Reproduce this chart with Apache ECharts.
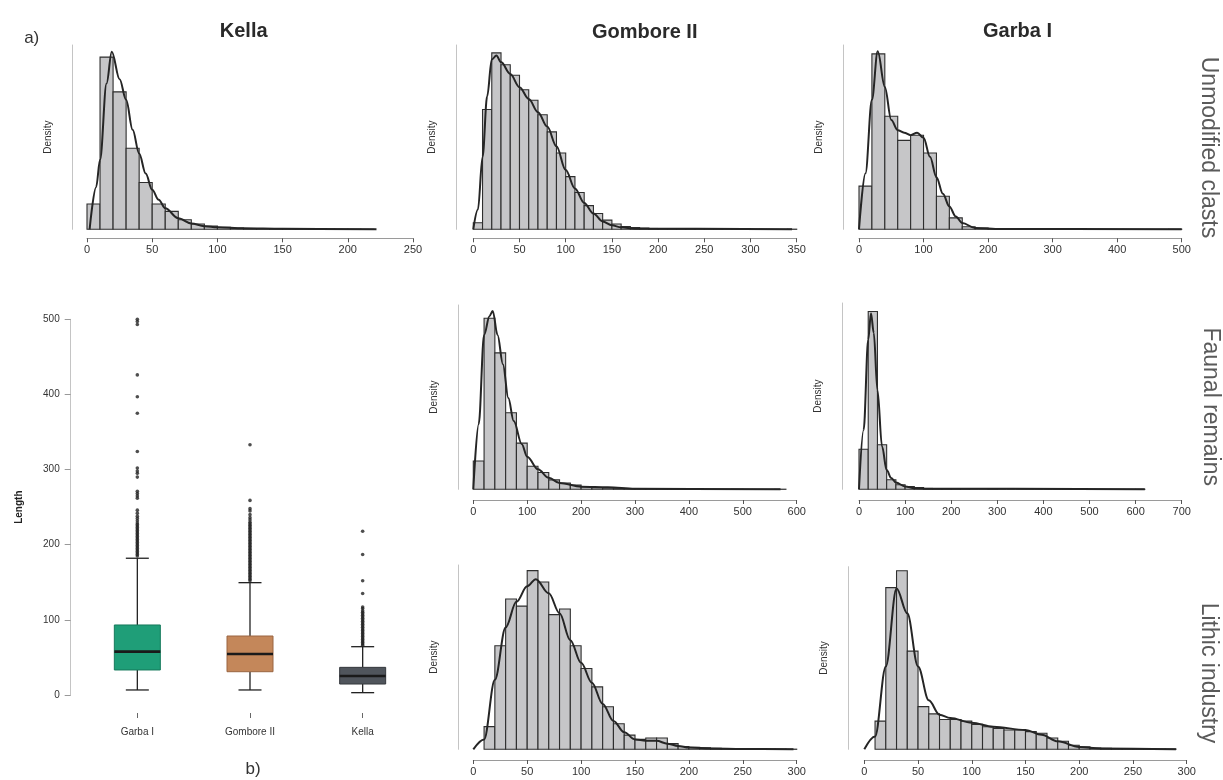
<!DOCTYPE html>
<html><head><meta charset="utf-8">
<script src="https://cdn.jsdelivr.net/npm/echarts@6/dist/echarts.min.js"></script>
<style>html,body{margin:0;padding:0;background:#fff}#chart{width:1223px;height:780px}</style>
</head><body><div id="chart"></div>
<script>
// ---------- DATA ----------
const siteTitles = ['Kella', 'Gombore II', 'Garba I'];
const rowLabels = ['Unmodified clasts', 'Faunal remains', 'Lithic industry'];

// Kella – unmodified clasts (bins of 10 starting at 0)
const kellaClastsStart = 0, kellaClastsWidth = 10;
const kellaClastsDensity = [0.0048,0.0327,0.0261,0.0154,0.0089,0.0048,0.0034,0.0018,0.0010,0.0006,0.0004,0.00025,0.00013,0.00008,0.00005,0.00005,0.00003,0.00003,0.00002,0.00002,0.00002,0.00001];
const kellaClastsCurve = [[2,0],[7,0.008],[10,0.0132],[15,0.0277],[19,0.0337],[25,0.0285],[30,0.0246],[35,0.0189],[40,0.0144],[45,0.0106],[50,0.0075],[55,0.0056],[60,0.0040],[70,0.0021],[80,0.0011],[90,0.0006],[100,0.0004],[120,0.0002],[150,0.0001],[222,0]];
const kellaClastsTicks = [0,250,50];

// Gombore II – unmodified clasts (bins of 10)
const gomClastsStart = 0, gomClastsWidth = 10;
const gomClastsDensity = [0.0005,0.0091,0.0134,0.0125,0.0117,0.0106,0.0098,0.0087,0.0074,0.0058,0.0040,0.0028,0.0018,0.0012,0.0007,0.0004,0.0002,0.00013,0.0001,0.00006,0.00004,0.00003,0.00002,0.00002,0.00001,0.00001,0.00001,0,0.00001,0,0,0.00001,0,0,0.00001];
const gomClastsCurve = [[0,0],[5,0.0015],[10,0.0055],[15,0.0101],[20,0.0129],[25,0.0132],[30,0.0127],[40,0.0118],[50,0.0108],[60,0.0099],[70,0.0089],[80,0.0078],[90,0.0063],[100,0.0045],[110,0.0031],[120,0.0020],[130,0.0012],[140,0.0006],[150,0.0003],[160,0.00015],[175,0.00005],[345,0]];
const gomClastsTicks = [0,350,50];

// Garba I – unmodified clasts (bins of 20)
const garClastsStart = 0, garClastsWidth = 20;
const garClastsDensity = [0.0034,0.0138,0.0089,0.0070,0.0074,0.0060,0.0026,0.0009,0.0002,0.0001,0.00005,0.00003,0.00002,0.00001,0.00001,0,0.00001,0,0,0,0,0,0,0,0.00001];
const garClastsCurve = [[0,0],[10,0.0044],[20,0.0102],[29,0.0140],[40,0.0112],[50,0.0086],[60,0.0078],[70,0.0076],[80,0.0074],[90,0.0076],[100,0.0072],[110,0.0057],[120,0.0041],[130,0.0028],[140,0.0018],[150,0.0010],[160,0.0005],[180,0.0001],[220,0.00002],[500,0]];
const garClastsTicks = [0,500,100];

// Gombore II – faunal remains (bins of 20)
const gomFaunaStart = 0, gomFaunaWidth = 20;
const gomFaunaDensity = [0.0027,0.0163,0.0130,0.0073,0.0044,0.0022,0.0016,0.0009,0.0006,0.0004,0.00025,0.00016,0.00013,0.00006,0.00003,0.00003,0.00002,0.00001,0.00001,0,0.00001,0,0,0,0.00001,0,0,0,0.00001];
const gomFaunaCurve = [[0,0],[10,0.0062],[20,0.0147],[30,0.0165],[36,0.0170],[45,0.0147],[55,0.0119],[65,0.0087],[75,0.0065],[90,0.0043],[100,0.0031],[120,0.0019],[140,0.0011],[160,0.0006],[200,0.00025],[250,0.0002],[300,0.00005],[570,0]];
const gomFaunaTicks = [0,600,100];

// Garba I – faunal remains (bins of 20)
const garFaunaStart = 0, garFaunaWidth = 20;
const garFaunaDensity = [0.0071,0.0315,0.0079,0.0017,0.0008,0.0005,0.0003,0.00015,0.00005,0.00003,0.00002,0.00001,0,0,0.00001,0,0,0,0,0,0,0,0,0,0,0,0,0,0,0,0.00001];
const garFaunaCurve = [[0,0],[10,0.0105],[20,0.0265],[26,0.0312],[32,0.0277],[40,0.0176],[50,0.0076],[60,0.0034],[70,0.0020],[80,0.0012],[100,0.0005],[120,0.0002],[150,0.0001],[620,0]];
const garFaunaTicks = [0,700,100];

// Gombore II – lithic industry (bins of 10 starting at 10)
const gomLithicStart = 10, gomLithicWidth = 10;
const gomLithicDensity = [0.0016,0.0073,0.0106,0.0101,0.0126,0.0118,0.0095,0.0099,0.0073,0.0057,0.0044,0.0030,0.0018,0.0010,0.0007,0.0008,0.0008,0.0004,0.0002,0.00014,0.0001,0.00007,0.00005,0.00005,0.00004,0.00002,0.00002,0.00002,0.00001];
const gomLithicCurve = [[0,0],[10,0.0007],[20,0.0049],[30,0.0086],[40,0.0104],[50,0.0115],[58,0.0120],[70,0.0110],[80,0.0096],[90,0.0077],[100,0.0061],[110,0.0047],[120,0.0032],[130,0.0020],[140,0.0012],[150,0.0007],[160,0.0006],[170,0.0006],[180,0.0004],[190,0.00024],[200,0.00012],[220,0.00005],[250,0.00002],[297,0]];
const gomLithicTicks = [0,300,50];

// Garba I – lithic industry (bins of 10 starting at 10)
const garLithicStart = 10, garLithicWidth = 10;
const garLithicDensity = [0.0035,0.0201,0.0222,0.0122,0.0053,0.0044,0.0037,0.0037,0.0035,0.0031,0.0028,0.0026,0.0024,0.0024,0.0022,0.0020,0.0014,0.0010,0.0005,0.0003,0.00017,0.00012,0.00004,0.00004,0.00004,0.00004,0.00004,0.00004];
const garLithicCurve = [[0,0],[10,0.0016],[20,0.0103],[30,0.0200],[40,0.0169],[50,0.0103],[60,0.0061],[70,0.0043],[80,0.0039],[100,0.0033],[120,0.0028],[150,0.0024],[165,0.0018],[180,0.0010],[200,0.0003],[220,0.0001],[290,0]];
const garLithicTicks = [0,300,50];

// Boxplot (b): Length by site
const boxCategories = ['Garba I', 'Gombore II', 'Kella'];
// [lower whisker, Q1, median, Q3, upper whisker]
const boxStats = [[6.7,33.3,57.7,93.2,182],[6.7,31,54.6,78.5,149.5],[3.1,14.6,25.3,36.8,64.3]];
const garbaOutliers = [185,187,189,191,193,195,197,199,201,203,205,207,209,211,213,215,217,219,221,223,225,227,229,232,235,238,242,246,262,265,268,271,290,295,298,302,324,375,397,426,493,497,500];
const gomboreOutliers = [152,154,156,158,160,162,164,166,168,170,172,174,176,178,180,182,184,186,188,190,192,194,196,198,200,202,204,206,208,210,212,214,216,218,220,222,224,226,228,230,233,236,240,245,248,259,333];
const kellaOutliers = [66,68,70,72,74,76,78,80,82,84,86,88,90,92,94,96,98,100,102,104,106,108,110,112,115,117,135,152,187,218];
const boxTicks = [0,500,100];
const boxColors = ['#1f9e78','#c4875a','#50555c'];
const boxBorders = ['#167a5c','#9a6540','#34383d'];

// ---------- LAYOUT ----------
const FONT = 'Liberation Sans, Arial, Helvetica, sans-serif';
const panels = [
  {start:kellaClastsStart, width:kellaClastsWidth, dens:kellaClastsDensity, curve:kellaClastsCurve, ticks:kellaClastsTicks, yMax:0.035,   g:{left:87,    top:45,    width:326,   height:184.3}, xOff:9,    yOff:15},
  {start:gomClastsStart,   width:gomClastsWidth,   dens:gomClastsDensity,   curve:gomClastsCurve,   ticks:gomClastsTicks,   yMax:0.014,   g:{left:473.3, top:45,    width:323.4, height:184.3}, xOff:9,    yOff:16.6},
  {start:garClastsStart,   width:garClastsWidth,   dens:garClastsDensity,   curve:garClastsCurve,   ticks:garClastsTicks,   yMax:0.0145,  g:{left:859,   top:45,    width:322.7, height:184.3}, xOff:9,    yOff:15.7},
  {start:gomFaunaStart,    width:gomFaunaWidth,    dens:gomFaunaDensity,    curve:gomFaunaCurve,    ticks:gomFaunaTicks,    yMax:0.01756, g:{left:473.3, top:305,   width:323.4, height:184.3}, xOff:10.7, yOff:15},
  {start:garFaunaStart,    width:garFaunaWidth,    dens:garFaunaDensity,    curve:garFaunaCurve,    ticks:garFaunaTicks,    yMax:0.033,   g:{left:859,   top:303,   width:322.7, height:186.3}, xOff:10.7, yOff:16.3},
  {start:gomLithicStart,   width:gomLithicWidth,   dens:gomLithicDensity,   curve:gomLithicCurve,   ticks:gomLithicTicks,   yMax:0.013,   g:{left:473.3, top:565,   width:323.4, height:184.3}, xOff:10.7, yOff:15},
  {start:garLithicStart,   width:garLithicWidth,   dens:garLithicDensity,   curve:garLithicCurve,   ticks:garLithicTicks,   yMax:0.0227,  g:{left:864.3, top:566.7, width:322.4, height:182.6}, xOff:10.7, yOff:16}
];

const grids = [], xAxes = [], yAxes = [], series = [];

panels.forEach((p, i) => {
  grids.push(Object.assign({containLabel:false, outerBoundsMode:'none'}, p.g));
  xAxes.push({
    type:'value', gridIndex:i, min:p.ticks[0], max:p.ticks[1], interval:p.ticks[2],
    position:'bottom', offset:p.xOff,
    axisLine:{show:true, onZero:false, lineStyle:{color:'#9a9a9a', width:1}},
    axisTick:{show:true, length:4, lineStyle:{color:'#555'}},
    axisLabel:{fontSize:11, color:'#333', margin:6, fontFamily:FONT},
    splitLine:{show:false}
  });
  yAxes.push({
    type:'value', gridIndex:i, min:0, max:p.yMax, position:'left', offset:p.yOff,
    axisLine:{show:true, onZero:false, lineStyle:{color:'#c4c4c4', width:1}},
    axisTick:{show:false}, axisLabel:{show:false}, splitLine:{show:false},
    name:'Density', nameLocation:'middle', nameGap:19,
    nameTextStyle:{fontSize:10, color:'#333', fontFamily:FONT}
  });
  const bins = p.dens.map((d, k) => [p.start + k * p.width, p.start + (k + 1) * p.width, d]);
  series.push({
    type:'custom', xAxisIndex:i, yAxisIndex:i, data:bins, clip:false, z:2,
    renderItem:(params, api) => {
      const a = api.coord([api.value(0), api.value(2)]);
      const b = api.coord([api.value(1), 0]);
      return {type:'rect', shape:{x:a[0], y:a[1], width:b[0]-a[0], height:b[1]-a[1]},
        style:{fill:'#c6c6c8', stroke:'#2e2e2e', lineWidth:1.1}};
    }
  });
  series.push({
    type:'line', xAxisIndex:i, yAxisIndex:i, data:p.curve, showSymbol:false, symbol:'none',
    smooth:0.35, smoothMonotone:'x', clip:false, z:3,
    lineStyle:{color:'#252525', width:2}
  });
});

// boxplot panel
const bi = panels.length;
grids.push({left:81, top:319.3, width:338, height:375.7, containLabel:false, outerBoundsMode:'none'});
xAxes.push({
  type:'category', gridIndex:bi, data:boxCategories, position:'bottom', offset:18,
  axisLine:{show:false, onZero:false}, axisTick:{show:true, alignWithLabel:true, length:5, lineStyle:{color:'#666'}},
  axisLabel:{fontSize:10, color:'#333', margin:14, fontFamily:FONT}, splitLine:{show:false}
});
yAxes.push({
  type:'value', gridIndex:bi, min:boxTicks[0], max:boxTicks[1], interval:boxTicks[2], position:'left', offset:10.3,
  axisLine:{show:true, onZero:false, lineStyle:{color:'#c4c4c4'}},
  axisTick:{show:true, length:6, lineStyle:{color:'#999'}},
  axisLabel:{fontSize:10, color:'#333', margin:11, fontFamily:FONT}, splitLine:{show:false},
  name:'Length', nameLocation:'middle', nameGap:46,
  nameTextStyle:{fontSize:10, color:'#222', fontWeight:'bold', fontFamily:FONT}
});
series.push({
  type:'custom', xAxisIndex:bi, yAxisIndex:bi, clip:false, z:2,
  data: boxStats.map((s, k) => [k].concat(s)),
  renderItem:(params, api) => {
    const k = api.value(0);
    const pt = v => api.coord([k, v]);
    const lo = pt(api.value(1)), q1 = pt(api.value(2)), md = pt(api.value(3)), q3 = pt(api.value(4)), hi = pt(api.value(5));
    const x = lo[0], bw = 46, sw = 23;
    const ws = {stroke:'#222', lineWidth:1.3};
    return {type:'group', children:[
      {type:'line', shape:{x1:x, y1:lo[1], x2:x, y2:q1[1]}, style:ws},
      {type:'line', shape:{x1:x, y1:q3[1], x2:x, y2:hi[1]}, style:ws},
      {type:'line', shape:{x1:x-sw/2, y1:lo[1], x2:x+sw/2, y2:lo[1]}, style:ws},
      {type:'line', shape:{x1:x-sw/2, y1:hi[1], x2:x+sw/2, y2:hi[1]}, style:ws},
      {type:'rect', shape:{x:x-bw/2, y:q3[1], width:bw, height:q1[1]-q3[1]}, style:{fill:boxColors[k], stroke:boxBorders[k], lineWidth:1}},
      {type:'line', shape:{x1:x-bw/2, y1:md[1], x2:x+bw/2, y2:md[1]}, style:{stroke:'#1a1a1a', lineWidth:2.6}}
    ]};
  }
});
const outlierData = [].concat(
  garbaOutliers.map(v => [0, v]),
  gomboreOutliers.map(v => [1, v]),
  kellaOutliers.map(v => [2, v])
);
series.push({
  type:'scatter', xAxisIndex:bi, yAxisIndex:bi, data:outlierData, symbol:'circle', symbolSize:3.6,
  itemStyle:{color:'#222'}, clip:false, z:3
});

// titles / labels
const graphics = [
  {type:'text', x:243.7, y:31, style:{text:siteTitles[0], font:'bold 20px '+FONT, fill:'#2a2a2a', textAlign:'center', textVerticalAlign:'middle'}},
  {type:'text', x:644.7, y:32, style:{text:siteTitles[1], font:'bold 20px '+FONT, fill:'#2a2a2a', textAlign:'center', textVerticalAlign:'middle'}},
  {type:'text', x:1017.5, y:31, style:{text:siteTitles[2], font:'bold 20px '+FONT, fill:'#2a2a2a', textAlign:'center', textVerticalAlign:'middle'}},
  {type:'text', x:31.7, y:38, style:{text:'a)', font:'17px '+FONT, fill:'#333', textAlign:'center', textVerticalAlign:'middle'}},
  {type:'text', x:253, y:769, style:{text:'b)', font:'17px '+FONT, fill:'#333', textAlign:'center', textVerticalAlign:'middle'}},
  {type:'text', x:1208, y:147.5, rotation:-Math.PI/2, style:{text:rowLabels[0], font:'23px '+FONT, fill:'#5a5a5a', textAlign:'center', textVerticalAlign:'middle'}},
  {type:'text', x:1210, y:406.7, rotation:-Math.PI/2, style:{text:rowLabels[1], font:'23px '+FONT, fill:'#5a5a5a', textAlign:'center', textVerticalAlign:'middle'}},
  {type:'text', x:1208, y:673, rotation:-Math.PI/2, style:{text:rowLabels[2], font:'23px '+FONT, fill:'#5a5a5a', textAlign:'center', textVerticalAlign:'middle'}}
];

const chart = echarts.init(document.getElementById('chart'), null, {renderer:'canvas'});
chart.setOption({
  animation:false,
  backgroundColor:'#ffffff',
  textStyle:{fontFamily:FONT},
  grid:grids, xAxis:xAxes, yAxis:yAxes, series:series, graphic:graphics
});
</script>
</body></html>
